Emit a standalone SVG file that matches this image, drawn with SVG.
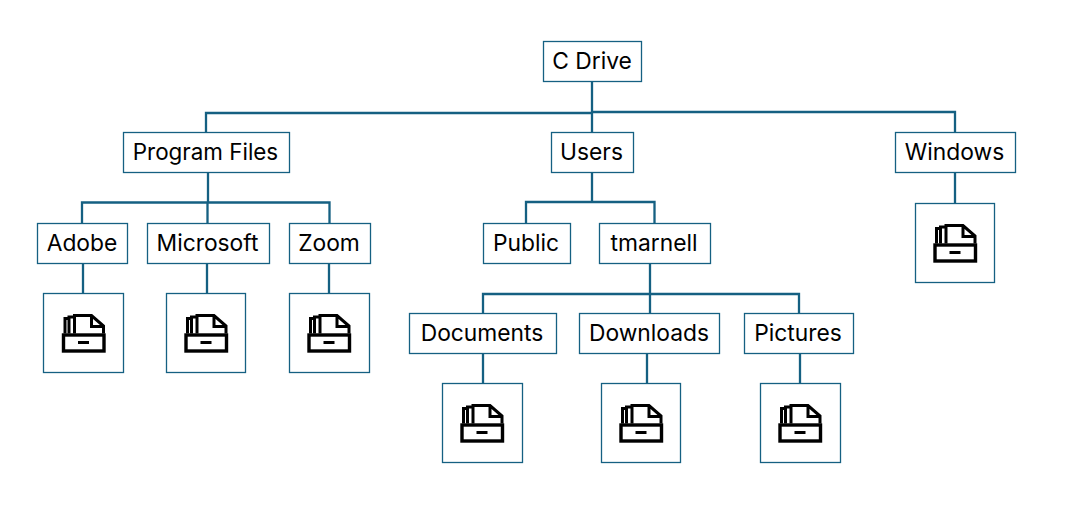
<svg xmlns="http://www.w3.org/2000/svg" width="1078" height="515" viewBox="0 0 1078 515">
<style>
.b{fill:#fff;stroke:#156082;stroke-width:1.3}
.c{fill:none;stroke:#156082;stroke-width:2.300}
text{font-family:Inter,"Noto Sans","Liberation Sans",sans-serif;font-size:22.800px;fill:#000;text-anchor:middle}
.i{fill:none;stroke:#000;stroke-width:3.400}
.t{fill:none;stroke:#000;stroke-width:3}
</style>
<defs>
<g id="tray">
<rect class="i" x="20" y="41.500" width="40.500" height="16"/>
<rect x="34.500" y="47.500" width="11" height="3" fill="#000"/>
<path class="t" d="M21.500 40V25H25.500M25.500 40V23.500H31M31 40V22H48L60 32.500V40M48 22V33H60"/>
</g>
</defs>
<rect width="1078" height="515" fill="#fff"/>
<g id="connectors">
<path class="c" d="M592 81.500V132.500M592 113H206V132.500M592 112H955V132.500"/>
<path class="c" d="M208 172.500V202.500M82 223.500V202.500H329.500V223.500M207.500 202.500V223.500"/>
<path class="c" d="M592 172.500V202M526 223.500V202H654.500V223.500"/>
<path class="c" d="M650 263.500V294M483 313.500V294H799V313.500M650 294V313.500"/>
<path class="c" d="M955 172.500V203.500M83 263.500V293.500M207 263.500V293.500M329 263.500V293.500"/>
<path class="c" d="M483 353.500V383.500M647 353.500V383.500M800 353.500V383.500"/>
</g>
<g id="c-drive"><rect class="b" x="543.500" y="41.500" width="98" height="40"/><text x="592" y="69">C Drive</text></g>
<g id="program-files"><rect class="b" x="123.500" y="132.500" width="166" height="40"/><text x="205.500" y="160" font-size="22.400" style="font-size:22.400px">Program Files</text></g>
<g id="users"><rect class="b" x="551.500" y="132.500" width="82" height="40"/><text x="591.500" y="160">Users</text></g>
<g id="windows"><rect class="b" x="895.500" y="132.500" width="120" height="40"/><text x="954.500" y="160">Windows</text></g>
<g id="adobe"><rect class="b" x="37.500" y="223.500" width="90" height="40"/><text x="82" y="251">Adobe</text></g>
<g id="microsoft"><rect class="b" x="147.500" y="223.500" width="122" height="40"/><text x="207.500" y="251">Microsoft</text></g>
<g id="zoom"><rect class="b" x="289.500" y="223.500" width="81" height="40"/><text x="329" y="251">Zoom</text></g>
<g id="public"><rect class="b" x="483.500" y="223.500" width="87" height="40"/><text x="526" y="251">Public</text></g>
<g id="tmarnell"><rect class="b" x="599.500" y="223.500" width="111" height="40"/><text x="654" y="251">tmarnell</text></g>
<g id="documents"><rect class="b" x="409.500" y="313.500" width="147" height="40"/><text x="482" y="341">Documents</text></g>
<g id="downloads"><rect class="b" x="579.500" y="313.500" width="140" height="40"/><text x="649" y="341">Downloads</text></g>
<g id="pictures"><rect class="b" x="744.500" y="313.500" width="109" height="40"/><text x="798" y="341">Pictures</text></g>
<g id="folder-adobe"><rect class="b" x="43.500" y="293.500" width="80" height="79"/><use href="#tray" x="43.500" y="293.500"/></g>
<g id="folder-microsoft"><rect class="b" x="166.500" y="293.500" width="79" height="79"/><use href="#tray" x="166" y="293.500"/></g>
<g id="folder-zoom"><rect class="b" x="289.500" y="293.500" width="80" height="79"/><use href="#tray" x="289" y="293.500"/></g>
<g id="folder-windows"><rect class="b" x="915.500" y="203.500" width="79" height="79"/><use href="#tray" x="915" y="203.500"/></g>
<g id="folder-documents"><rect class="b" x="442.500" y="383.500" width="80" height="79"/><use href="#tray" x="442" y="383.500"/></g>
<g id="folder-downloads"><rect class="b" x="601.500" y="383.500" width="79" height="79"/><use href="#tray" x="601" y="383.500"/></g>
<g id="folder-pictures"><rect class="b" x="760.500" y="383.500" width="80" height="79"/><use href="#tray" x="760" y="383.500"/></g>
</svg>
